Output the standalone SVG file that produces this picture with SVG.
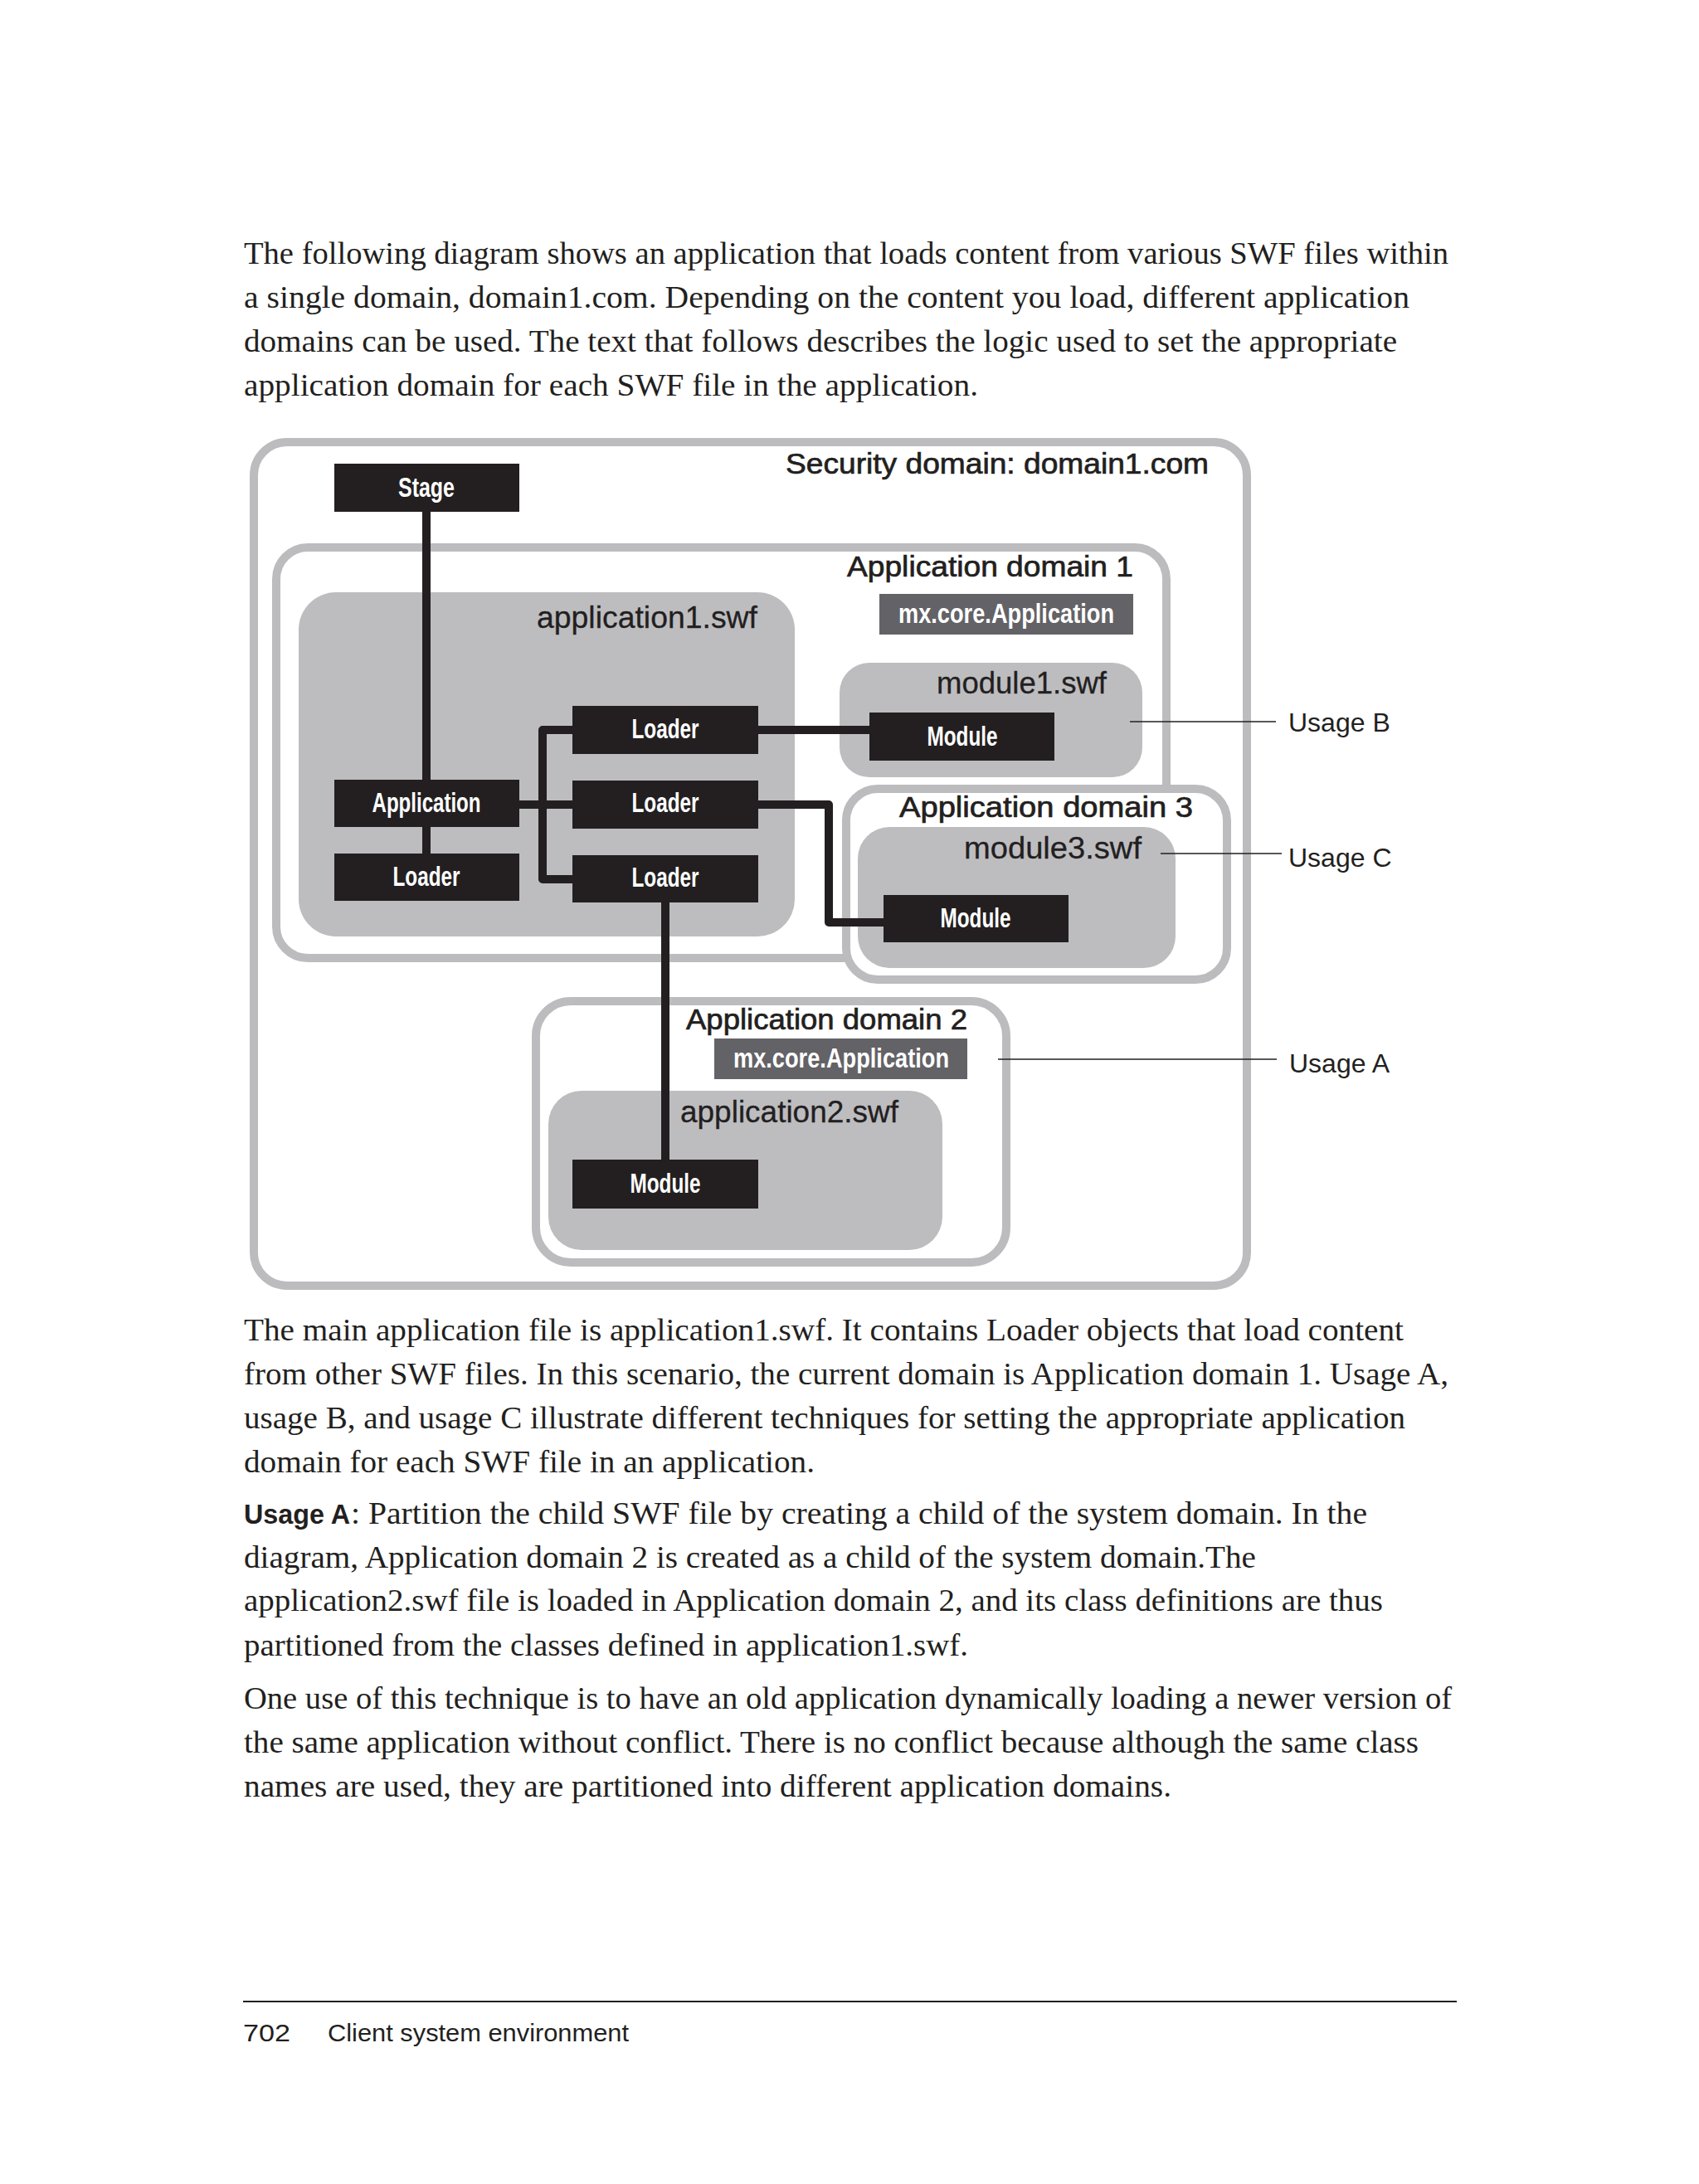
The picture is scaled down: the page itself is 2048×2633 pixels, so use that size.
<svg xmlns="http://www.w3.org/2000/svg" width="2048" height="2633" viewBox="0 0 2048 2633">
<style>
.body{font-family:"Liberation Serif","Times New Roman",serif;font-size:38px;fill:#231f20}
.head{font-family:"Liberation Sans",Arial,sans-serif;font-size:35px;fill:#231f20;stroke:#231f20;stroke-width:0.7;text-anchor:end}
.swf{font-family:"Liberation Sans",Arial,sans-serif;font-size:36px;fill:#231f20;stroke:#231f20;stroke-width:0.3}
.lbl{font-family:"Liberation Sans Narrow","Liberation Sans",Arial,sans-serif;font-weight:bold;font-size:33px;fill:#ffffff;text-anchor:middle}
.usage{font-family:"Liberation Sans",Arial,sans-serif;font-size:32px;fill:#231f20}
.foot{font-family:"Liberation Sans",Arial,sans-serif;font-size:30px;fill:#231f20}
.dom{fill:#ffffff;stroke:#bcbcbf;stroke-width:10}
.swfbox{fill:#bdbdc0}
.blk{fill:#231f20}
.mx{fill:#636266}
.conn{fill:none;stroke:#231f20;stroke-width:10;stroke-linejoin:round}
.call{fill:none;stroke:#231f20;stroke-width:1.6}
</style>
<rect x="0" y="0" width="2048" height="2633" fill="#ffffff"/>

<g id="intro-text">
<text class="body" x="294" y="318" textLength="1452" lengthAdjust="spacingAndGlyphs">The following diagram shows an application that loads content from various SWF files within</text>
<text class="body" x="294" y="371" textLength="1405" lengthAdjust="spacingAndGlyphs">a single domain, domain1.com. Depending on the content you load, different application</text>
<text class="body" x="294" y="424" textLength="1390" lengthAdjust="spacingAndGlyphs">domains can be used. The text that follows describes the logic used to set the appropriate</text>
<text class="body" x="294" y="477" textLength="885" lengthAdjust="spacingAndGlyphs">application domain for each SWF file in the application.</text>
</g>

<g id="security-domain">
<rect class="dom" x="306" y="533" width="1197" height="1017" rx="40"/>
<text class="head" x="1457" y="571" textLength="510" lengthAdjust="spacingAndGlyphs">Security domain: domain1.com</text>
</g>

<g id="app-domain-1">
<rect class="dom" x="333" y="660" width="1073" height="495" rx="38"/>
<text class="head" x="1366" y="695" textLength="345" lengthAdjust="spacingAndGlyphs">Application domain 1</text>
</g>
<g id="mxcore-1">
<rect class="mx" x="1060" y="716" width="306" height="49"/>
<text class="lbl" x="1213" y="751" font-size="31" textLength="260" lengthAdjust="spacingAndGlyphs">mx.core.Application</text>
</g>

<g id="application1-swf">
<rect class="swfbox" x="360" y="714" width="598" height="415" rx="45"/>
<text class="swf" x="647" y="757" textLength="266" lengthAdjust="spacingAndGlyphs">application1.swf</text>
</g>

<g id="module1-swf">
<rect class="swfbox" x="1012" y="799" width="365" height="138" rx="36"/>
<text class="swf" x="1334" y="836" text-anchor="end" textLength="205" lengthAdjust="spacingAndGlyphs">module1.swf</text>
</g>

<g id="app-domain-3">
<rect class="dom" x="1020" y="951" width="459" height="230" rx="38" stroke-width="9"/>
<text class="head" x="1438" y="985" textLength="354" lengthAdjust="spacingAndGlyphs">Application domain 3</text>
</g>
<g id="module3-swf">
<rect class="swfbox" x="1034" y="997" width="383" height="170" rx="38"/>
<text class="swf" x="1376" y="1035" text-anchor="end" textLength="214" lengthAdjust="spacingAndGlyphs">module3.swf</text>
</g>

<g id="app-domain-2">
<rect class="dom" x="646" y="1207" width="567" height="315" rx="42" stroke-width="9"/>
<text class="head" x="1166" y="1241" textLength="339" lengthAdjust="spacingAndGlyphs">Application domain 2</text>
</g>
<g id="mxcore-2">
<rect class="mx" x="861" y="1252" width="305" height="49"/>
<text class="lbl" x="1014" y="1287" font-size="31" textLength="260" lengthAdjust="spacingAndGlyphs">mx.core.Application</text>
</g>
<g id="application2-swf">
<rect class="swfbox" x="661" y="1315" width="475" height="192" rx="40"/>
<text class="swf" x="820" y="1353" textLength="263" lengthAdjust="spacingAndGlyphs">application2.swf</text>
</g>

<g id="connectors">
<path class="conn" d="M514 617 V940"/>
<path class="conn" d="M514 997 V1029"/>
<path class="conn" d="M626 970 H690"/>
<path class="conn" d="M690 880 H654 V1060 H690"/>
<path class="conn" d="M914 880 H1048" stroke-width="11"/>
<path class="conn" d="M914 970 H999 V1112 H1065"/>
<path class="conn" d="M802 1088 V1398"/>
<path class="call" d="M1362 870 H1538"/>
<path class="call" d="M1399 1029 H1545"/>
<path class="call" d="M1203 1277 H1539" stroke="#555558"/>
</g>

<g id="stage">
<rect class="blk" x="403" y="559" width="223" height="58"/>
<text class="lbl" x="514" y="599" textLength="68" lengthAdjust="spacingAndGlyphs">Stage</text>
</g>
<g id="application">
<rect class="blk" x="403" y="940" width="223" height="57"/>
<text class="lbl" x="514" y="979" textLength="131" lengthAdjust="spacingAndGlyphs">Application</text>
</g>
<g id="loader-main">
<rect class="blk" x="403" y="1029" width="223" height="57"/>
<text class="lbl" x="514" y="1068" textLength="81" lengthAdjust="spacingAndGlyphs">Loader</text>
</g>
<g id="loader-1">
<rect class="blk" x="690" y="851" width="224" height="58"/>
<text class="lbl" x="802" y="890" textLength="81" lengthAdjust="spacingAndGlyphs">Loader</text>
</g>
<g id="loader-2">
<rect class="blk" x="690" y="941" width="224" height="58"/>
<text class="lbl" x="802" y="979" textLength="81" lengthAdjust="spacingAndGlyphs">Loader</text>
</g>
<g id="loader-3">
<rect class="blk" x="690" y="1031" width="224" height="57"/>
<text class="lbl" x="802" y="1069" textLength="81" lengthAdjust="spacingAndGlyphs">Loader</text>
</g>
<g id="module-1">
<rect class="blk" x="1048" y="859" width="223" height="58"/>
<text class="lbl" x="1160" y="899" textLength="85" lengthAdjust="spacingAndGlyphs">Module</text>
</g>
<g id="module-3">
<rect class="blk" x="1065" y="1079" width="223" height="57"/>
<text class="lbl" x="1176" y="1118" textLength="85" lengthAdjust="spacingAndGlyphs">Module</text>
</g>
<g id="module-2">
<rect class="blk" x="690" y="1398" width="224" height="59"/>
<text class="lbl" x="802" y="1438" textLength="85" lengthAdjust="spacingAndGlyphs">Module</text>
</g>

<g id="usage-labels">
<text class="usage" x="1553" y="882">Usage B</text>
<text class="usage" x="1553" y="1045">Usage C</text>
<text class="usage" x="1554" y="1293">Usage A</text>
</g>

<g id="body-text">
<text class="body" x="294" y="1616" textLength="1398" lengthAdjust="spacingAndGlyphs">The main application file is application1.swf. It contains Loader objects that load content</text>
<text class="body" x="294" y="1669" textLength="1452" lengthAdjust="spacingAndGlyphs">from other SWF files. In this scenario, the current domain is Application domain 1. Usage A,</text>
<text class="body" x="294" y="1722" textLength="1400" lengthAdjust="spacingAndGlyphs">usage B, and usage C illustrate different techniques for setting the appropriate application</text>
<text class="body" x="294" y="1775" textLength="688" lengthAdjust="spacingAndGlyphs">domain for each SWF file in an application.</text>

<text x="294" y="1837" font-family="'Liberation Sans',Arial,sans-serif" font-weight="bold" font-size="33" fill="#231f20" textLength="128" lengthAdjust="spacingAndGlyphs">Usage A</text>
<text class="body" x="423" y="1837" textLength="1225" lengthAdjust="spacingAndGlyphs">: Partition the child SWF file by creating a child of the system domain. In the</text>
<text class="body" x="294" y="1890" textLength="1220" lengthAdjust="spacingAndGlyphs">diagram, Application domain 2 is created as a child of the system domain.The</text>
<text class="body" x="294" y="1942" textLength="1373" lengthAdjust="spacingAndGlyphs">application2.swf file is loaded in Application domain 2, and its class definitions are thus</text>
<text class="body" x="294" y="1996" textLength="873" lengthAdjust="spacingAndGlyphs">partitioned from the classes defined in application1.swf.</text>

<text class="body" x="294" y="2060" textLength="1456" lengthAdjust="spacingAndGlyphs">One use of this technique is to have an old application dynamically loading a newer version of</text>
<text class="body" x="294" y="2113" textLength="1416" lengthAdjust="spacingAndGlyphs">the same application without conflict. There is no conflict because although the same class</text>
<text class="body" x="294" y="2166" textLength="1118" lengthAdjust="spacingAndGlyphs">names are used, they are partitioned into different application domains.</text>
</g>

<g id="footer">
<line x1="293" y1="2413" x2="1756" y2="2413" stroke="#231f20" stroke-width="2"/>
<text class="foot" x="293" y="2461" textLength="57" lengthAdjust="spacingAndGlyphs">702</text>
<text class="foot" x="395" y="2461" textLength="363" lengthAdjust="spacingAndGlyphs">Client system environment</text>
</g>
</svg>
